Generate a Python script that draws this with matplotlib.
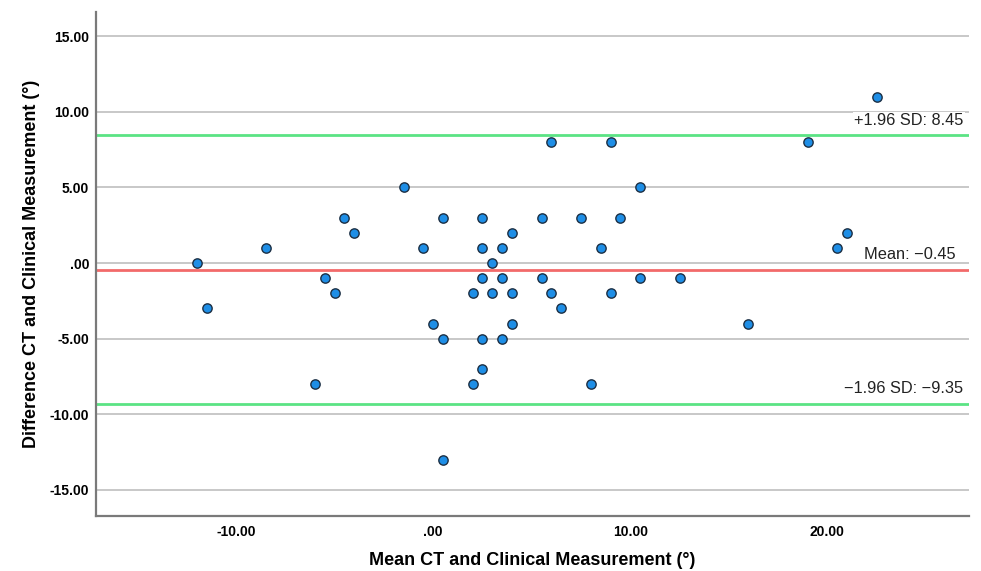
import numpy as np
import matplotlib
matplotlib.use("Agg")
import matplotlib.pyplot as plt
from matplotlib.ticker import FuncFormatter

# Bland-Altman data: mean of CT and clinical, and their difference (degrees)
mean_vals = [-12, -11.5, -8.5, -6, -5.5, -5, -4.5, -4, -1.5, -0.5,
             0, 0.5, 0.5, 0.5, 2, 2, 2.5, 2.5, 2.5, 2.5,
             2.5, 3, 3, 3.5, 3.5, 3.5, 4, 4, 4, 5.5,
             5.5, 6, 6, 6.5, 7.5, 8, 8.5, 9, 9, 9.5,
             10.5, 10.5, 12.5, 16, 19, 20.5, 21, 22.5]
diff_vals = [0, -3, 1, -8, -1, -2, 3, 2, 5, 1,
             -4, 3, -5, -13, -2, -8, 3, 1, -1, -5,
             -7, 0, -2, 1, -1, -5, 2, -2, -4, 3,
             -1, 8, -2, -3, 3, -8, 1, 8, -2, 3,
             5, -1, -1, -4, 8, 1, 2, 11]

bias = -0.45
upper_loa = 8.45
lower_loa = -9.35

y_ticks = [-15, -10, -5, 0, 5, 10, 15]
x_ticks = [-10, 0, 10, 20]

plt.rcParams['font.family'] = ['Liberation Sans', 'DejaVu Sans']


def spss_fmt(v, pos=None):
    s = "%.2f" % v
    if s.startswith("0."):
        s = s[1:]
    elif s.startswith("-0."):
        s = "-" + s[2:]
    return s


fig = plt.figure(figsize=(9.81, 5.71), dpi=100)
ax = fig.add_axes([0.098, 0.097, 0.89, 0.882])

for yt in y_ticks:
    ax.axhline(yt, color="#c8c8c8", lw=1.4, zorder=1)

ax.axhline(upper_loa, color="#5be384", lw=2.0, zorder=2)
ax.axhline(lower_loa, color="#5be384", lw=2.0, zorder=2)
ax.axhline(bias, color="#f26a6a", lw=2.0, zorder=2)

ax.scatter(mean_vals, diff_vals, s=45, color="#1e8ee6",
           edgecolors="#1c2f44", linewidths=1.0, zorder=3)

ax.set_xlim(-17.1, 27.2)
ax.set_ylim(-16.7, 16.6)
ax.set_xticks(x_ticks)
ax.set_yticks(y_ticks)
ax.xaxis.set_major_formatter(FuncFormatter(spss_fmt))
ax.yaxis.set_major_formatter(FuncFormatter(spss_fmt))
ax.tick_params(length=0, labelsize=10)
ax.tick_params(axis="x", pad=7)
ax.tick_params(axis="y", pad=5)
for lab in ax.get_xticklabels() + ax.get_yticklabels():
    lab.set_fontweight("bold")

for side in ["top", "right"]:
    ax.spines[side].set_visible(False)
for side in ["left", "bottom"]:
    ax.spines[side].set_color("#7a7a7a")
    ax.spines[side].set_linewidth(1.6)

ax.set_xlabel("Mean CT and Clinical Measurement (°)", fontsize=13,
              fontweight="bold", labelpad=9)
ax.set_ylabel("Difference CT and Clinical Measurement (°)", fontsize=13,
              fontweight="bold", labelpad=7)

box = dict(facecolor="white", edgecolor="none", pad=1)
ax.text(26.9, upper_loa + 0.45, "+1.96 SD: %.2f" % upper_loa, ha="right",
        va="bottom", fontsize=11.8, color="#222222", bbox=box, zorder=4)
ax.text(26.5, bias + 0.5, "Mean: \u22120.45", ha="right", va="bottom",
        fontsize=11.8, color="#222222", zorder=4)
ax.text(26.9, lower_loa + 0.55, "\u22121.96 SD: \u22129.35", ha="right",
        va="bottom", fontsize=11.8, color="#222222", zorder=4)

fig.savefig("out.png", dpi=100)
